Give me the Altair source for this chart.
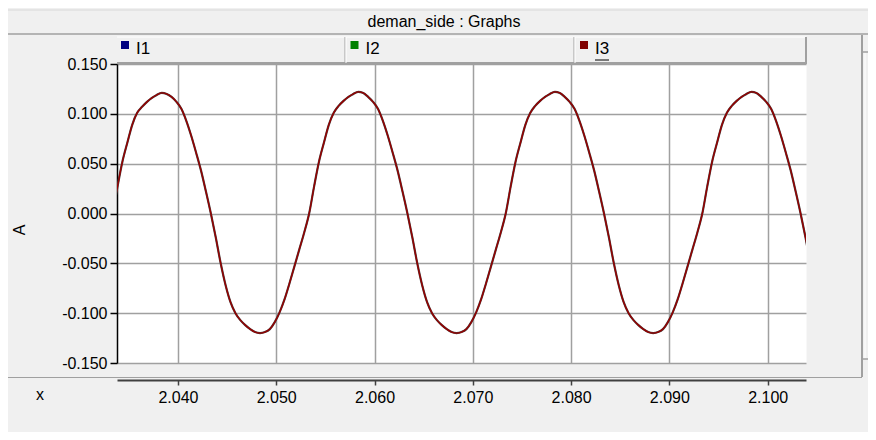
import altair as alt
import pandas as pd

# ---------------- data ----------------
x_ticks = [2.040, 2.050, 2.060, 2.070, 2.080, 2.090, 2.100]
y_ticks = [-0.150, -0.100, -0.050, 0.000, 0.050, 0.100, 0.150]
x_domain = [2.0338, 2.1039]
y_domain = [-0.150, 0.150]

series_names = ["I1", "I2", "I3"]
series_colors = ["#000080", "#008000", "#800000"]

# sampling grid of the trace (seconds)
t_first = 2.03335
t_step = 0.0005

# I3 current [A], one value per sample, read cycle by cycle
i3_cycle1 = [0.000, 0.027, 0.052, 0.071, 0.089, 0.101, 0.107, 0.112, 0.116, 0.119,
             0.121, 0.120, 0.117, 0.112, 0.105, 0.093, 0.078, 0.061, 0.043, 0.022,
             0.000, -0.024, -0.050, -0.072, -0.089, -0.100, -0.107, -0.112, -0.116, -0.119,
             -0.120, -0.119, -0.116, -0.109, -0.099, -0.086, -0.070, -0.053, -0.036, -0.019]
i3_cycle2 = [0.000, 0.027, 0.052, 0.071, 0.089, 0.101, 0.108, 0.113, 0.117, 0.120,
             0.122, 0.121, 0.117, 0.112, 0.105, 0.093, 0.078, 0.061, 0.043, 0.022,
             0.000, -0.024, -0.050, -0.072, -0.089, -0.100, -0.107, -0.112, -0.116, -0.119,
             -0.120, -0.119, -0.116, -0.109, -0.099, -0.086, -0.070, -0.053, -0.036, -0.019]
i3_cycle3 = [0.000, 0.027, 0.052, 0.071, 0.089, 0.101, 0.108, 0.113, 0.117, 0.120,
             0.122, 0.121, 0.117, 0.112, 0.105, 0.093, 0.078, 0.061, 0.043, 0.022,
             0.000, -0.024, -0.050, -0.072, -0.089, -0.100, -0.107, -0.112, -0.116, -0.119,
             -0.120, -0.119, -0.116, -0.109, -0.099, -0.086, -0.070, -0.053, -0.036, -0.019]
i3_cycle4 = [0.000, 0.027, 0.052, 0.071, 0.089, 0.101, 0.108, 0.113, 0.117, 0.120,
             0.122, 0.121, 0.117, 0.112, 0.105, 0.093, 0.078, 0.061, 0.043, 0.022,
             0.000, -0.024, -0.050]

i3_values = i3_cycle1 + i3_cycle2 + i3_cycle3 + i3_cycle4
t_values = [round(t_first + t_step * k, 5) for k in range(len(i3_values))]

df = pd.DataFrame({"t": t_values, "I": i3_values})

FONT = "Liberation Sans"
W, H = 689, 299
GRID = "#a0a0a0"

x_enc = alt.X(
    "t:Q",
    scale=alt.Scale(domain=x_domain, nice=False, zero=False),
    axis=alt.Axis(
        values=x_ticks, format=".3f", title=None, offset=17,
        grid=True, gridColor=GRID, gridWidth=1.5,
        domainColor="#404040", domainWidth=2,
        tickColor="#404040", tickSize=5, tickWidth=1.5,
        labelFont=FONT, labelFontSize=16, labelColor="#000", labelPadding=4,
    ),
)
y_enc = alt.Y(
    "I:Q",
    scale=alt.Scale(domain=y_domain, nice=False, zero=False),
    axis=alt.Axis(
        values=y_ticks, title=None,
        labelExpr="(datum.value < -0.0001 ? '-' : '') + format(abs(datum.value), '.3f')",
        grid=True, gridColor=GRID, gridWidth=1.5,
        domainColor="#000", domainWidth=1.5,
        tickColor="#000", tickSize=7, tickWidth=1.5,
        labelFont=FONT, labelFontSize=16, labelColor="#000", labelPadding=3,
    ),
)

base = alt.Chart(df).encode(x=x_enc, y=y_enc)
under = base.mark_line(color="#4a4040", strokeWidth=2.2, clip=True, interpolate="monotone")
trace = base.mark_line(color="#960000", strokeWidth=1.4, clip=True, interpolate="monotone")


def deco():
    return alt.Chart(pd.DataFrame({"k": [0]}))


def hline(y, x1, x2, color, width=1.0):
    return deco().mark_rule(color=color, strokeWidth=width).encode(
        x=alt.value(x1), x2=alt.value(x2), y=alt.value(y))


def vline(x, y1, y2, color, width=1.0):
    return deco().mark_rule(color=color, strokeWidth=width).encode(
        x=alt.value(x), y=alt.value(y1), y2=alt.value(y2))


layers = []
# title bar
layers.append(hline(-54, -109, 751, "#d8d8d8", 1))
layers.append(hline(-30, -109, 751, GRID, 1.5))
layers.append(deco().mark_text(text="deman_side : Graphs", font=FONT, fontSize=16,
                               align="center", baseline="middle", color="#000")
              .encode(x=alt.value(327), y=alt.value(-42)))
# legend strip
layers.append(deco().mark_rect(color="#f0f0f0").encode(
    x=alt.value(0), x2=alt.value(W), y=alt.value(-27), y2=alt.value(-1)))
layers.append(hline(-27, 0, W, "#ffffff", 1))
layers.append(hline(-1, 0, W + 1, GRID, 2))
layers.append(vline(W, -27, -1, GRID, 2))
for sep in (228, 457):
    layers.append(vline(sep, -27, -1, GRID, 1))
    layers.append(vline(sep + 1, -27, -1, "#ffffff", 1))
for i, (name, col) in enumerate(zip(series_names, series_colors)):
    layers.append(deco().mark_square(size=64, color=col, opacity=1)
                  .encode(x=alt.value(8 + 229.5 * i), y=alt.value(-19)))
    layers.append(deco().mark_text(text=name, font=FONT, fontSize=17, align="left",
                                   baseline="middle", color="#000")
                  .encode(x=alt.value(19 + 229.5 * i), y=alt.value(-15)))
layers.append(hline(-4, 478, 492, "#000", 1))
# axis titles
layers.append(deco().mark_text(text="A", font=FONT, fontSize=16, angle=270,
                               align="center", baseline="middle", color="#000")
              .encode(x=alt.value(-97), y=alt.value(166)))
layers.append(deco().mark_text(text="x", font=FONT, fontSize=16,
                               align="center", baseline="middle", color="#000")
              .encode(x=alt.value(-77), y=alt.value(331)))
# separator line above the x axis and scrollbar edge
layers.append(hline(313.5, -109, 745, GRID, 1.2))
layers.append(vline(745, -29, 313, GRID, 2))
layers.append(vline(748, -12, 295, "#ffffff", 1))
layers.append(hline(-12, 746, 751, GRID, 1.5))
layers.append(hline(295, 746, 751, GRID, 1.5))

chart = alt.layer(under, trace, *layers).properties(
    width=W, height=H,
    autosize=alt.AutoSizeParams(type="none"),
    padding={"left": 109, "top": 56, "right": 62, "bottom": 69},
    background="#f0f0f0",
).configure_view(fill="#ffffff", stroke="transparent")

chart.save("out.html", embed_options={"renderer": "svg", "actions": False})
